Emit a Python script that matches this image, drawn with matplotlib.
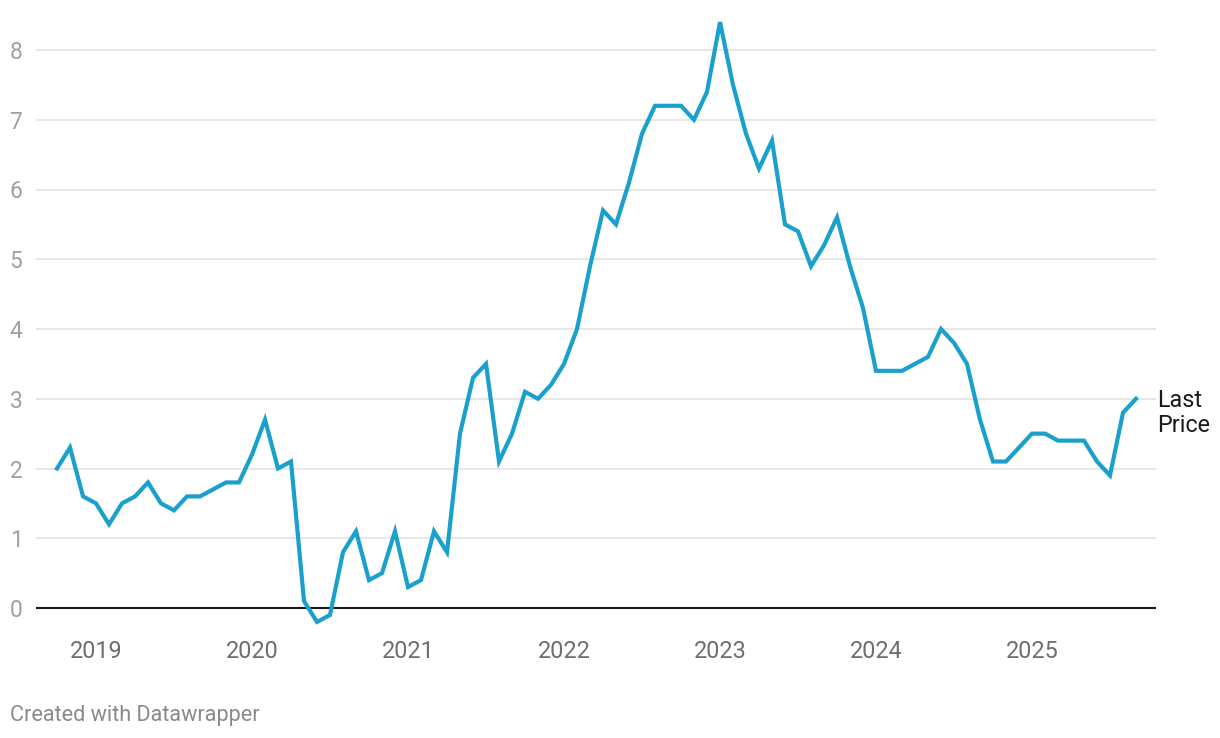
import numpy as np
import matplotlib as mpl
mpl.use("Agg")
import matplotlib.pyplot as plt

## Fonts
plt.rcParams['font.family'] = ['Roboto', 'DejaVu Sans']

## Data : monthly values, Oct 2018 -> Sep 2025
start_month = -3   # months relative to Jan 2019
values = [2.0, 2.3, 1.6, 1.5, 1.2, 1.5, 1.6, 1.8, 1.5, 1.4, 1.6, 1.6,
          1.7, 1.8, 1.8, 2.2, 2.7, 2.0, 2.1, 0.1, -0.2, -0.1, 0.8, 1.1,
          0.4, 0.5, 1.1, 0.3, 0.4, 1.1, 0.8, 2.5, 3.3, 3.5, 2.1, 2.5,
          3.1, 3.0, 3.2, 3.5, 4.0, 4.9, 5.7, 5.5, 6.1, 6.8, 7.2, 7.2,
          7.2, 7.0, 7.4, 8.4, 7.5, 6.8, 6.3, 6.7, 5.5, 5.4, 4.9, 5.2,
          5.6, 4.9, 4.3, 3.4, 3.4, 3.4, 3.5, 3.6, 4.0, 3.8, 3.5, 2.7,
          2.1, 2.1, 2.3, 2.5, 2.5, 2.4, 2.4, 2.4, 2.1, 1.9, 2.8, 3.0]
years = [2019, 2020, 2021, 2022, 2023, 2024, 2025]
yticks = [0, 1, 2, 3, 4, 5, 6, 7, 8]
label = "Last\nPrice"

months = np.arange(len(values)) + start_month

## Figure
W, H = 1220, 738
fig = plt.figure(figsize=(W / 100, H / 100), dpi=100)

# axes box in pixels: x 36..1156, y 15..630
left, right, top, bottom = 36, 1156, 15, 630
ax = fig.add_axes([left / W, 1 - bottom / H, (right - left) / W, (bottom - top) / H])

# x scale: Jan 2019 at px 96, 13 px per month
px_month = 13.0
ax.set_xlim((left - 96) / px_month, (right - 96) / px_month)
# y scale: 0 at px 608, 8 at px 50
px_unit = (608 - 50) / 8
ax.set_ylim((608 - bottom) / px_unit, (608 - top) / px_unit)

for s in ax.spines.values():
	s.set_visible(False)

## Grid
for y in yticks:
	if y == 0:
		ax.axhline(0, color="#1a1a1a", lw=1.5, zorder=2)
	else:
		ax.axhline(y, color="#e3e3e3", lw=1.2, zorder=1)

ax.set_yticks(yticks)
ax.set_yticklabels([str(v) for v in yticks], color="#a0a0a0", fontsize=16.5, ha="left")
ax.tick_params(axis="y", length=0, pad=19)

ax.set_xticks([12 * (y - 2019) for y in years])
ax.set_xticklabels([str(y) for y in years], color="#6e6e6e", fontsize=16.8)
ax.tick_params(axis="x", length=0, pad=7)

## Line
ax.plot(months, values, color="#1aa0cc", lw=3.0, solid_joinstyle="miter", zorder=3, clip_on=False)

## Label at end
ax.annotate(label, xy=(months[-1], values[-1]), xytext=(15, -10), textcoords="offset points",
	fontsize=16.8, color="#1a1a1a", ha="left", va="center", linespacing=1.1, annotation_clip=False)

## Footer
fig.text(10 / W, 1 - 715 / H, "Created with Datawrapper", color="#8a8a8a", fontsize=15.6, va="center", ha="left")

fig.savefig("out.png", dpi=100)
plt.close(fig)
